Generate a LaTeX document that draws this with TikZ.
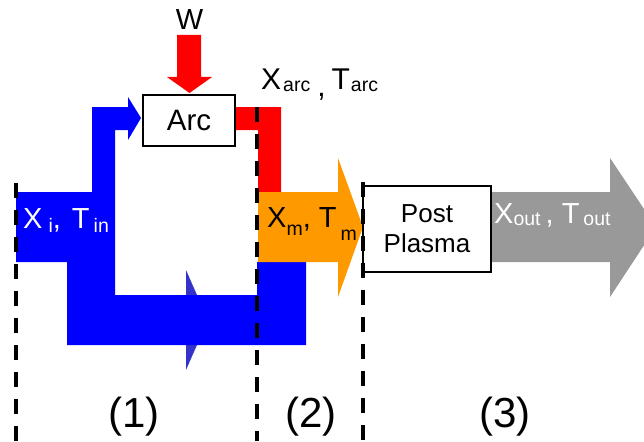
\documentclass[tikz,border=0pt]{standalone}
\usepackage{fontspec}
\setmainfont{Liberation Sans}
\definecolor{fblue}{HTML}{0000FF}
\definecolor{dblue}{HTML}{3333CC}
\definecolor{fred}{HTML}{FF0000}
\definecolor{forange}{HTML}{FF9900}
\definecolor{fgray}{HTML}{999999}
\newcommand{\sbs}[2][3]{\raisebox{-#1pt}{\fontsize{19.5}{19.5}\selectfont #2}}
\begin{document}
\begin{tikzpicture}[x=1pt,y=-1pt,
  boxnode/.style={draw=black,line width=2pt,fill=white,inner sep=0pt,align=center},
  divider/.style={line width=3.8pt,dash pattern=on 15pt off 12pt},
  lbl/.style={inner sep=0pt,font=\fontsize{29}{29}\selectfont},
  region/.style={inner sep=0pt,font=\fontsize{42}{42}\selectfont}]
\useasboundingbox (0,0) rectangle (644,441);
\begin{scope}
\clip (0,0) rectangle (644,441);
\fill[dblue] (186,270) -- (208,320) -- (186,370) -- cycle;
\fill[fblue] (16,192) -- (92,192) -- (92,107) -- (128,107) -- (128,97) -- (141,118) -- (128,140) -- (128,130) -- (115,130) -- (115,295) -- (257,295) -- (257,262) -- (306,262) -- (306,345) -- (67,345) -- (67,262) -- (16,262) -- cycle;
\fill[fred] (235,107) -- (281,107) -- (281,192) -- (258,192) -- (258,130) -- (235,130) -- cycle;
\fill[forange] (258,192) -- (338,192) -- (338,158) -- (363,227) -- (338,297) -- (338,262) -- (258,262) -- cycle;
\fill[fgray] (491,192) -- (610,192) -- (610,158) -- (656,227) -- (610,297) -- (610,262) -- (491,262) -- cycle;
\fill[fred] (177,35) -- (201,35) -- (201,77) -- (212,77) -- (189.5,93) -- (167,77) -- (177,77) -- cycle;
\end{scope}
\node[boxnode,minimum width=92pt,minimum height=51pt,font=\fontsize{29.5}{29.5}\selectfont] (arc) at (189,120.5) {Arc};
\node[boxnode,minimum width=128pt,minimum height=86pt,font=\fontsize{26}{30}\selectfont] (post) at (427,229) {Post\\Plasma};
\coordinate (d1t) at (16,183); \coordinate (d1b) at (16,441);
\coordinate (d2t) at (257,107); \coordinate (d2b) at (257,441);
\coordinate (d3t) at (363,182); \coordinate (d3b) at (363,441);
\draw[divider] (d1t) -- (d1b);
\draw[divider] (d2t) -- (d2b);
\draw[divider] (d3t) -- (d3b);
\node[lbl,anchor=base,font=\fontsize{29}{29}\selectfont] (w) at (189.5,30) {W};
\node[lbl,anchor=base west,text=white] (xin) at (23,228) {X\hspace{6pt}\sbs[4]{i}, \hspace{3pt}T\hspace{4pt}\sbs[4]{in}};
\node[lbl,anchor=base west,font=\fontsize{30}{30}\selectfont] (xarc) at (261,90) {X\hspace{2pt}\sbs[1.5]{arc}\hspace{7pt}\raisebox{-6pt}{,}\hspace{6pt}T\hspace{1pt}\sbs[1.5]{arc}};
\node[lbl,anchor=base west] (xm) at (267,227) {X\sbs[8]{m}, T\hspace{4pt}\sbs[13]{m}};
\node[lbl,anchor=base west,text=white] (xout) at (494,223) {X\sbs[2]{out}\hspace{5pt}, T\hspace{4pt}\sbs[2]{out}};
\node[region,anchor=base] (r1) at (134,427) {(1)};
\node[region,anchor=base] (r2) at (311,427) {(2)};
\node[region,anchor=base] (r3) at (505,427) {(3)};
\end{tikzpicture}
\end{document}
